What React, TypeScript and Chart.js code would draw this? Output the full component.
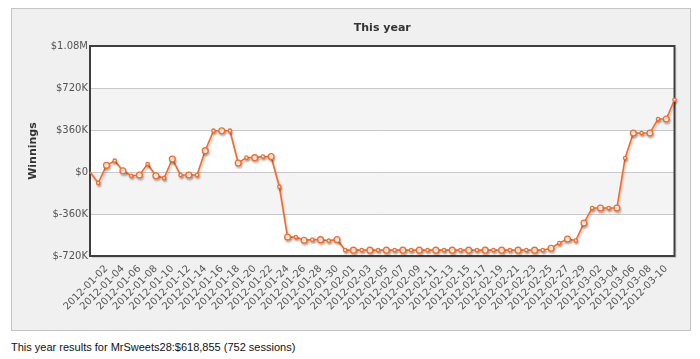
import React, { useEffect, useRef } from "react";
import { Chart, registerables } from "chart.js";

Chart.register(...registerables);

const dates = [
  "2011-12-31",
  "2012-01-01", "2012-01-02", "2012-01-03", "2012-01-04", "2012-01-05", "2012-01-06", "2012-01-07", "2012-01-08",
  "2012-01-09", "2012-01-10", "2012-01-11", "2012-01-12", "2012-01-13", "2012-01-14", "2012-01-15", "2012-01-16",
  "2012-01-17", "2012-01-18", "2012-01-19", "2012-01-20", "2012-01-21", "2012-01-22", "2012-01-23", "2012-01-24",
  "2012-01-25", "2012-01-26", "2012-01-27", "2012-01-28", "2012-01-29", "2012-01-30", "2012-01-31",
  "2012-02-01", "2012-02-02", "2012-02-03", "2012-02-04", "2012-02-05", "2012-02-06", "2012-02-07", "2012-02-08",
  "2012-02-09", "2012-02-10", "2012-02-11", "2012-02-12", "2012-02-13", "2012-02-14", "2012-02-15", "2012-02-16",
  "2012-02-17", "2012-02-18", "2012-02-19", "2012-02-20", "2012-02-21", "2012-02-22", "2012-02-23", "2012-02-24",
  "2012-02-25", "2012-02-26", "2012-02-27", "2012-02-28", "2012-02-29",
  "2012-03-01", "2012-03-02", "2012-03-03", "2012-03-04", "2012-03-05", "2012-03-06", "2012-03-07", "2012-03-08",
  "2012-03-09", "2012-03-10", "2012-03-11",
];

const winnings = [
  0, -94000, 57000, 97000, 11000, -32000, -26000, 68000, -32000, -51000,
  111000, -26000, -26000, -26000, 183000, 354000, 354000, 354000, 77000, 123000,
  123000, 132000, 132000, -126000, -558000, -558000, -585000, -580000, -580000, -589000,
  -578000, -670000, -670000, -670000, -670000, -670000, -670000, -670000, -670000, -670000,
  -670000, -670000, -670000, -670000, -670000, -670000, -670000, -670000, -670000, -670000,
  -670000, -670000, -670000, -670000, -670000, -670000, -653000, -609000, -574000, -588000,
  -437000, -309000, -309000, -309000, -309000, 120000, 334000, 334000, 334000, 454000,
  454000, 618855,
];

const yTickValues = [-720000, -360000, 0, 360000, 720000, 1080000];
const yTickLabels = ["$-720K", "$-360K", "$0", "$360K", "$720K", "$1.08M"];
const chartTitle = "This year";
const yAxisTitle = "Winnings";
const footerText = "This year results for MrSweets28:$618,855 (752 sessions)";

const LINE_COLOR = "#f76b24";
const FONT = "'DejaVu Sans', Verdana, sans-serif";

const bandsPlugin = {
  id: "bands",
  beforeDraw(chart: any) {
    const { ctx, chartArea, scales } = chart;
    const y = scales.y;
    ctx.save();
    ctx.fillStyle = "#ffffff";
    ctx.fillRect(chartArea.left, chartArea.top, chartArea.right - chartArea.left, chartArea.bottom - chartArea.top);
    ctx.fillStyle = "#f4f4f4";
    for (let i = 0; i < yTickValues.length - 1; i++) {
      if (i % 2 === 1) {
        const yb = y.getPixelForValue(yTickValues[i]);
        const yt = y.getPixelForValue(yTickValues[i + 1]);
        ctx.fillRect(chartArea.left, yt, chartArea.right - chartArea.left, yb - yt);
      }
    }
    ctx.restore();
  },
  beforeDatasetsDraw(chart: any) {
    const { ctx, chartArea } = chart;
    ctx.save();
    ctx.strokeStyle = "#3e3e3e";
    ctx.lineWidth = 2;
    ctx.strokeRect(chartArea.left, chartArea.top, chartArea.right - chartArea.left, chartArea.bottom - chartArea.top);
    ctx.strokeStyle = "rgba(0,0,0,0.12)";
    ctx.lineWidth = 1;
    ctx.beginPath();
    ctx.moveTo(chartArea.right + 1.5, chartArea.top + 2);
    ctx.lineTo(chartArea.right + 1.5, chartArea.bottom + 1.5);
    ctx.lineTo(chartArea.left + 2, chartArea.bottom + 1.5);
    ctx.stroke();
    ctx.restore();
    ctx.save();
    ctx.font = "bold 11px " + FONT;
    ctx.fillStyle = "#333333";
    ctx.textAlign = "center";
    ctx.textBaseline = "middle";
    ctx.fillText(chartTitle, (chartArea.left + chartArea.right) / 2, 19);
    ctx.restore();
  },
  beforeDatasetDraw(chart: any) {
    const ctx = chart.ctx;
    ctx.save();
    ctx.shadowColor = "rgba(0,0,0,0.22)";
    ctx.shadowBlur = 2;
    ctx.shadowOffsetX = 1;
    ctx.shadowOffsetY = 2;
  },
  afterDatasetDraw(chart: any) {
    chart.ctx.restore();
  },
};

export default function App() {
  const canvasRef = useRef<HTMLCanvasElement | null>(null);

  useEffect(() => {
    if (!canvasRef.current) return;
    const chart = new Chart(canvasRef.current, {
      type: "line",
      data: {
        labels: dates,
        datasets: [
          {
            data: winnings,
            borderColor: LINE_COLOR,
            borderWidth: 1.6,
            backgroundColor: "#ffffff",
            pointBackgroundColor: "#ffffff",
            pointBorderColor: LINE_COLOR,
            pointBorderWidth: 1.3,
            pointRadius: (c: any) => (c.dataIndex === 0 ? 0 : c.dataIndex % 2 === 0 ? 2.9 : 1.7),
            tension: 0,
            fill: false,
          },
        ],
      },
      options: {
        animation: false,
        responsive: false,
        devicePixelRatio: 1,
        layout: { padding: { top: 37, right: 14, left: 0, bottom: 0 } },
        plugins: {
          legend: { display: false },
          tooltip: { enabled: false },
          title: { display: false },
        },
        scales: {
          x: {
            offset: false,
            grid: { display: false, drawTicks: false },
            border: { display: false },
            afterFit: (s: any) => {
              s.height = 74;
            },
            ticks: {
              autoSkip: false,
              minRotation: 45,
              maxRotation: 45,
              padding: 7,
              labelOffset: 0,
              color: "#555555",
              font: { family: FONT, size: 10 },
              callback: (_v: any, i: number) => (i > 0 && i % 2 === 0 ? dates[i] : ""),
            },
          },
          y: {
            min: -720000,
            max: 1080000,
            afterFit: (s: any) => {
              s.width = 78;
            },
            afterBuildTicks: (s: any) => {
              s.ticks = yTickValues.map((v) => ({ value: v }));
            },
            grid: { color: "#c8c8c8", lineWidth: 1, drawTicks: false },
            border: { display: false },
            title: {
              display: true,
              text: yAxisTitle,
              color: "#333333",
              font: { family: FONT, size: 11, weight: "bold" },
              padding: { top: 15, bottom: 0 },
            },
            ticks: {
              padding: 2,
              color: "#555555",
              font: { family: FONT, size: 10 },
              callback: (v: any) => {
                const i = yTickValues.indexOf(Number(v));
                return i >= 0 ? yTickLabels[i] : "";
              },
            },
          },
        },
      },
      plugins: [bandsPlugin],
    });
    return () => chart.destroy();
  }, []);

  return (
    <div>
      <div
        style={{
          marginLeft: 3,
          width: 680,
          height: 323,
          boxSizing: "border-box",
          border: "1px solid #c4c4c4",
          background: "#f0f0f0",
        }}
      >
        <canvas ref={canvasRef} width={678} height={321} style={{ display: "block", width: 678, height: 321 }} />
      </div>
      <div
        style={{
          marginLeft: 3,
          marginTop: 9,
          font: "11px 'Liberation Sans', Arial, sans-serif",
          color: "#111111",
          lineHeight: "14px",
        }}
      >
        {footerText}
      </div>
    </div>
  );
}
